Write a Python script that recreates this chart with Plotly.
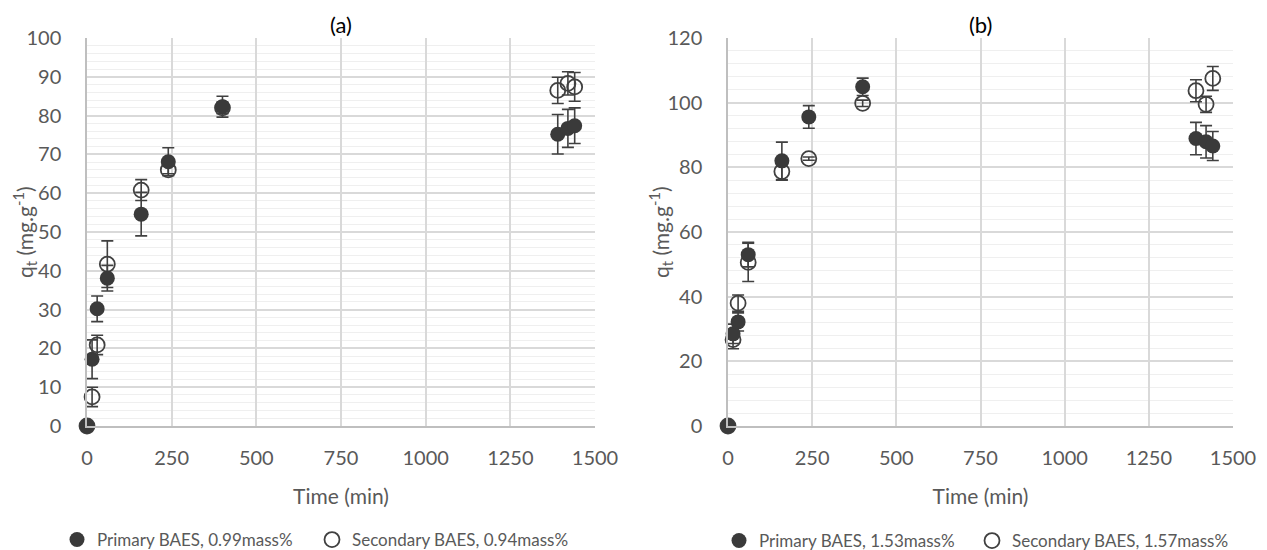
import plotly.graph_objects as go

# Contact time (min)
time_a = [0, 15, 30, 60, 160, 240, 400, 1390, 1420, 1440]
time_b = [0, 15, 30, 60, 160, 240, 400, 1390, 1420, 1440]

# (a) adsorption capacity q_t (mg/g) and standard deviations
qt_a_primary = [0, 17.2, 30.2, 38.1, 54.6, 68.1, 82.3, 75.2, 76.7, 77.4]
sd_a_primary = [0, 5.0, 3.3, 3.3, 5.6, 3.6, 2.7, 5.1, 4.9, 4.6]
qt_a_secondary = [0, 7.5, 20.9, 41.7, 60.8, 66.0, 82.0, 86.5, 88.3, 87.4]
sd_a_secondary = [0, 2.5, 2.5, 6.0, 2.7, 1.0, 1.5, 3.4, 3.0, 3.7]

# (b)
qt_b_primary = [0, 28.5, 32.2, 53.0, 82.0, 95.6, 104.9, 88.9, 87.9, 86.6]
sd_b_primary = [0, 3.0, 2.8, 3.8, 5.8, 3.5, 2.7, 5.0, 5.0, 4.5]
qt_b_secondary = [0, 26.7, 38.0, 50.6, 78.7, 82.7, 99.8, 103.7, 99.5, 107.5]
sd_b_secondary = [0, 2.8, 2.5, 5.9, 2.7, 0.5, 1.0, 3.4, 2.5, 3.7]

names_a = ["Primary BAES, 0.99mass%", "Secondary BAES, 0.94mass%"]
names_b = ["Primary BAES, 1.53mass%", "Secondary BAES, 1.57mass%"]
x_ticks = [0, 250, 500, 750, 1000, 1250, 1500]

W, H = 1267, 550
FONT = "Lato"
TXT = "#595959"
DARK = "#3a3a3a"
ERR = "#404040"


def px(x):
    return x / W


def py(y):
    return 1 - y / H


def err(arr):
    return dict(type="data", array=arr, visible=True, color=ERR,
                thickness=1.6, width=6)


fig = go.Figure()

# secondary (open) drawn first, primary (filled) on top
fig.add_trace(go.Scatter(
    x=time_a, y=qt_a_secondary, mode="markers", name=names_a[1], cliponaxis=False,
    marker=dict(symbol="circle-open", size=15, color=ERR,
                line=dict(width=1.8, color=ERR)),
    error_y=err(sd_a_secondary), xaxis="x", yaxis="y", legend="legend2"))
fig.add_trace(go.Scatter(
    x=time_a, y=qt_a_primary, mode="markers", name=names_a[0], cliponaxis=False,
    marker=dict(symbol="circle", size=15, color=DARK),
    error_y=err(sd_a_primary), xaxis="x", yaxis="y", legend="legend"))
fig.add_trace(go.Scatter(
    x=time_b, y=qt_b_secondary, mode="markers", name=names_b[1], cliponaxis=False,
    marker=dict(symbol="circle-open", size=15, color=ERR,
                line=dict(width=1.8, color=ERR)),
    error_y=err(sd_b_secondary), xaxis="x2", yaxis="y2", legend="legend4"))
fig.add_trace(go.Scatter(
    x=time_b, y=qt_b_primary, mode="markers", name=names_b[0], cliponaxis=False,
    marker=dict(symbol="circle", size=15, color=DARK),
    error_y=err(sd_b_primary), xaxis="x2", yaxis="y2", legend="legend3"))

xa = dict(range=[0, 1500], tickvals=x_ticks, showgrid=True, gridcolor="#d9d9d9",
          gridwidth=1.5, zeroline=False, showline=True, linecolor="#bfbfbf",
          linewidth=1.5, ticks="", ticklabelstandoff=13, automargin=False,
          tickfont=dict(family=FONT, size=20, color=TXT),
          title=dict(text="Time (min)", font=dict(family=FONT, size=21, color=TXT),
                     standoff=22))
ya_common = dict(showgrid=True, gridcolor="#d9d9d9", gridwidth=1.5, zeroline=False,
                 showline=True, linecolor="#bfbfbf", linewidth=1.5, ticks="",
                 ticklabelstandoff=20, automargin=False,
                 tickfont=dict(family=FONT, size=20, color=TXT))

dom_y = [py(426), py(38)]

fig.update_layout(
    width=W, height=H, margin=dict(l=0, r=0, t=0, b=0, autoexpand=False),
    paper_bgcolor="white", plot_bgcolor="white",
    xaxis=dict(xa, domain=[px(87), px(595)], anchor="y"),
    yaxis=dict(ya_common, domain=dom_y, anchor="x", range=[0, 100], dtick=10,
               minor=dict(dtick=2, showgrid=True, gridcolor="#efefef", gridwidth=1.2)),
    xaxis2=dict(xa, domain=[px(728), px(1233)], anchor="y2"),
    yaxis2=dict(ya_common, domain=dom_y, anchor="x2", range=[0, 120], dtick=20,
                minor=dict(dtick=4, showgrid=True, gridcolor="#efefef", gridwidth=1.2)),
    showlegend=True,
)

leg = dict(orientation="h", yanchor="middle", xanchor="left",
           bgcolor="rgba(0,0,0,0)", font=dict(family=FONT, size=17, color=TXT),
           itemwidth=30, borderwidth=0)
fig.update_layout(
    legend=dict(leg, x=px(57), y=py(540)),
    legend2=dict(leg, x=px(312), y=py(540)),
    legend3=dict(leg, x=px(719), y=py(541)),
    legend4=dict(leg, x=px(972), y=py(541)),
)

# panel labels and y-axis titles
ann = []
for cx, lab in [(341, "(a)"), (980, "(b)")]:
    ann.append(dict(text=lab, x=px(cx), y=py(25), xref="paper", yref="paper",
                    xanchor="center", yanchor="middle", showarrow=False,
                    font=dict(family=FONT, size=22, color="#000000")))
for cx in [24, 660]:
    ann.append(dict(text="q<sub>t</sub> (mg.g<sup>-1</sup>)", x=px(cx), y=py(232),
                    xref="paper", yref="paper", xanchor="center", yanchor="middle",
                    showarrow=False, textangle=-90,
                    font=dict(family=FONT, size=21, color=TXT)))
fig.update_layout(annotations=ann)

fig.write_html("out.html")
